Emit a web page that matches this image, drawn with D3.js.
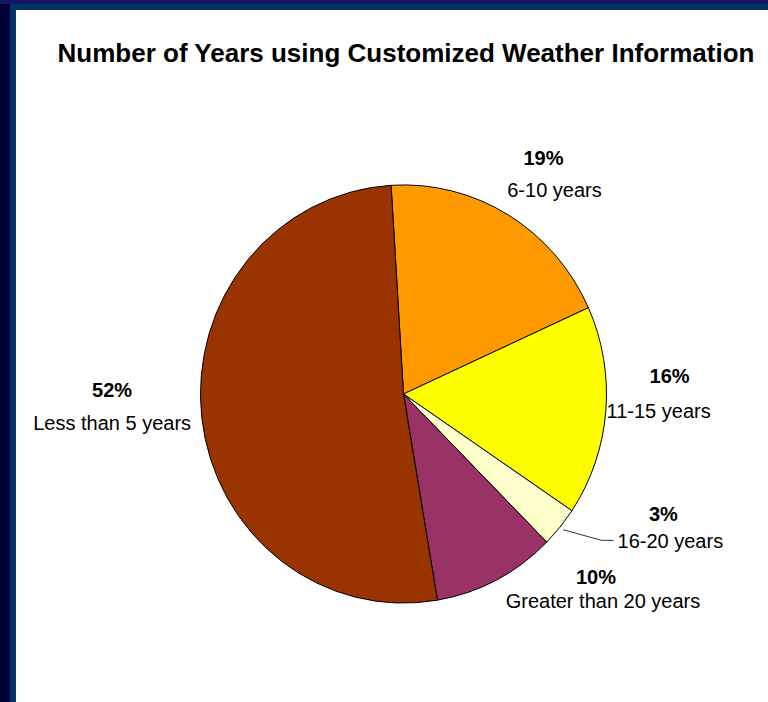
<!DOCTYPE html>
<html>
<head>
<meta charset="utf-8">
<script src="https://cdn.jsdelivr.net/npm/d3@7"></script>
<style>
  html, body { margin: 0; padding: 0; background: #00003a; }
  svg { display: block; }
  text { font-family: "Liberation Sans", Arial, sans-serif; fill: #000; }
</style>
</head>
<body>
<script>
// slices, clockwise from 12 o'clock
var categories = ['6-10 years', '11-15 years', '16-20 years', 'Greater than 20 years', 'Less than 5 years'];
var values = [19.2, 16.2, 3.1, 9.8, 51.7];
var colors = ['#ff9900', '#ffff00', '#ffffcc', '#993366', '#993300'];

// label layout: percent nudge from the label arc point, then name offset from the percent
var nudges = [[11, -8], [17, -32], [67, -37], [78, -39], [-43, -26]];
var nameOffsets = [[11, 32], [-11, 35], [7, 27], [7, 24], [0, 33]];
var leaders = [false, false, true, false, false];

var width = 768,
    height = 702,
    cx = 403.5, cy = 394,
    radius = 203,
    squash = 1.03;

var svg = d3.select('body')
    .append('svg')
    .attr('width', width)
    .attr('height', height)

// slide frame
svg.append('rect').attr('width', width).attr('height', 4).attr('fill', '#141466')
svg.append('rect').attr('x', 10).attr('y', 4).attr('width', width - 10).attr('height', height - 4).attr('fill', '#003366')
svg.append('rect').attr('x', 16).attr('y', 10).attr('width', width - 16).attr('height', height - 10).attr('fill', '#ffffff')

svg.append('text')
    .attr('x', 406)
    .attr('y', 62)
    .attr('text-anchor', 'middle')
    .attr('font-size', 26)
    .attr('font-weight', 'bold')
    .text('Number of Years using Customized Weather Information')

var start = -3.5 * Math.PI / 180;
var pie = d3.pie()
    .sort(null)
    .value(d => d)
    .startAngle(start)
    .endAngle(start + 2 * Math.PI)
var arcs = pie(values);

var arc = d3.arc().innerRadius(0).outerRadius(radius)

var g = svg.append('g')
    .attr('transform', `translate(${cx}, ${cy}) scale(1, ${squash})`)

g.selectAll('path')
    .data(arcs)
    .enter()
    .append('path')
    .attr('d', arc)
    .attr('fill', (d, i) => colors[i])
    .attr('stroke', '#000')
    .attr('stroke-width', 1)
    .attr('vector-effect', 'non-scaling-stroke')

// screen point at a radius along the slice's middle angle
function polar(d, r) {
    var a = (d.startAngle + d.endAngle) / 2;
    return [cx + r * Math.sin(a), cy - squash * r * Math.cos(a)];
}

var fmt = d => Math.round(d) + '%';

arcs.forEach((d, i) => {
    var p = polar(d, 250);
    var x = p[0] + nudges[i][0],
        y = p[1] + nudges[i][1];
    var nx = x + nameOffsets[i][0],
        ny = y + nameOffsets[i][1];

    svg.append('text')
        .attr('x', x)
        .attr('y', y)
        .attr('text-anchor', 'middle')
        .attr('font-size', 20)
        .attr('font-weight', 'bold')
        .text(fmt(values[i]))

    var name = svg.append('text')
        .attr('x', nx)
        .attr('y', ny)
        .attr('text-anchor', 'middle')
        .attr('font-size', 20)
        .text(categories[i])

    if (leaders[i]) {
        var w = name.node().getComputedTextLength();
        var left = nx - w / 2;
        var ly = ny - 7.5;
        var pts = [polar(d, 207), [left - 16, ly], [left - 4, ly]];
        svg.append('path')
            .attr('d', d3.line()(pts))
            .attr('fill', 'none')
            .attr('stroke', '#333')
            .attr('stroke-width', 1)
    }
});
</script>
</body>
</html>
